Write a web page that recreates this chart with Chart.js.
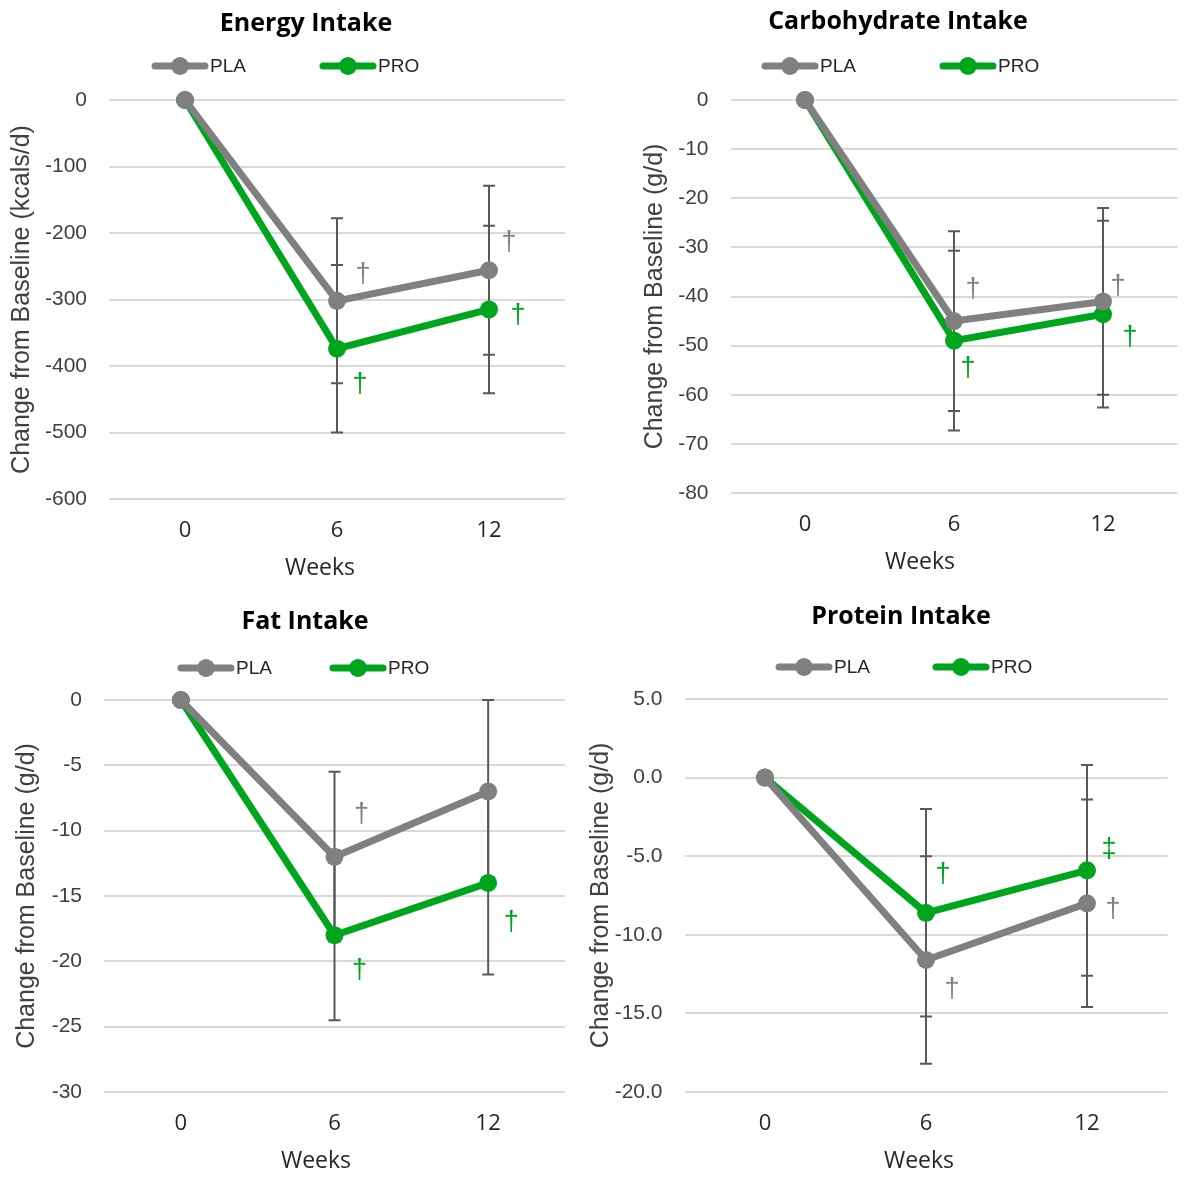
<!DOCTYPE html>
<html>
<head>
<meta charset="utf-8">
<script src="https://cdn.jsdelivr.net/npm/chart.js@4.4.1/dist/chart.umd.min.js"></script>
<style>
html, body { margin: 0; padding: 0; background: #fff; overflow: hidden; }
#wrap { position: relative; width: 1187px; height: 1181px; overflow: hidden; }
#wrap canvas { position: absolute; }
</style>
</head>
<body>
<div id="wrap"></div>
<script>
var weeks = ["0", "6", "12"];

// mean change from baseline and SD, per group
var energyPLA = [0, -302, -256];
var energyPRO = [0, -374, -315];
var energyPLAsd = [0, 124, 127];
var energyPROsd = [0, 126, 126];
var energyPLAsig = ["", "†", "†"];
var energyPROsig = ["", "†", "†"];

var carbPLA = [0, -45, -41];
var carbPRO = [0, -49, -43.6];
var carbPLAsd = [0, 18.3, 19];
var carbPROsd = [0, 18.3, 19];
var carbPLAsig = ["", "†", "†"];
var carbPROsig = ["", "†", "†"];

var fatPLA = [0, -12, -7];
var fatPRO = [0, -18, -14];
var fatPLAsd = [0, 6.5, 7];
var fatPROsd = [0, 6.5, 7];
var fatPLAsig = ["", "†", ""];
var fatPROsig = ["", "†", "†"];

var protPLA = [0, -11.6, -8];
var protPRO = [0, -8.6, -5.9];
var protPLAsd = [0, 6.6, 6.6];
var protPROsd = [0, 6.6, 6.7];
var protPLAsig = ["", "†", "†"];
var protPROsig = ["", "†", "‡"];

var GREY = '#808080';
var GREEN = '#00a51e';

// page layout of each panel: box [x,y,w,h], plot area [l,t,r,b]
var panels = [
  { title: 'Energy Intake', yTitle: 'Change from Baseline (kcals/d)',
    pla: energyPLA, pro: energyPRO, plaSd: energyPLAsd, proSd: energyPROsd, plaSig: energyPLAsig, proSig: energyPROsig,
    min: -600, max: 0, step: 100, dec: 0,
    box: [0, 0, 612, 595], plot: [109, 100, 565, 499], titleY: 24, yTitleX: 22, xTitleX: 320, legend: [66, 152, 320],
    plaSigAt: [null, [26, -258], [20, -210]], proSigAt: [null, [23, -424], [29, -320]] },
  { title: 'Carbohydrate Intake', yTitle: 'Change from Baseline (g/d)',
    pla: carbPLA, pro: carbPRO, plaSd: carbPLAsd, proSd: carbPROsd, plaSig: carbPLAsig, proSig: carbPROsig,
    min: -80, max: 0, step: 10, dec: 0,
    box: [609, 0, 578, 595], plot: [730.5, 100, 1177.5, 493], titleY: 22, yTitleX: 655, xTitleX: 920, legend: [66, 762, 940],
    plaSigAt: [null, [19, -38], [15, -37.3]], proSigAt: [null, [14, -54], [27, -47.8]] },
  { title: 'Fat Intake', yTitle: 'Change from Baseline (g/d)',
    pla: fatPLA, pro: fatPRO, plaSd: fatPLAsd, proSd: fatPROsd, plaSig: fatPLAsig, proSig: fatPROsig,
    min: -30, max: 0, step: 5, dec: 0,
    box: [0, 595, 610, 586], plot: [104, 700, 565, 1092], titleY: 622, yTitleX: 27, xTitleX: 316, legend: [668, 178, 330],
    plaSigAt: [null, [27, -8.55], null], proSigAt: [null, [25, -20.5], [23, -16.8]] },
  { title: 'Protein Intake', yTitle: 'Change from Baseline (g/d)',
    pla: protPLA, pro: protPRO, plaSd: protPLAsd, proSd: protPROsd, plaSig: protPLAsig, proSig: protPROsig,
    min: -20, max: 5, step: 5, dec: 1,
    box: [585, 595, 632, 586], plot: [684.5, 699, 1167.5, 1092], titleY: 617, yTitleX: 601, xTitleX: 919, legend: [667, 776, 933],
    plaSigAt: [null, [26, -13.26], [26, -8.2]], proSigAt: [null, [17, -6.0], [22, -4.4]] }
];

// error bars under the lines, legend, axis title and significance marks on top
var extras = {
  id: 'extras',
  afterLayout: function(chart) {
    // centre the title on the whole canvas, not the padded area
    chart.titleBlock.left = 0;
    chart.titleBlock.right = chart.width;
    chart.titleBlock.width = chart.width;
  },
  beforeDatasetsDraw: function(chart) {
    var ctx = chart.ctx, xs = chart.scales.x, ys = chart.scales.y;
    ctx.save();
    ctx.strokeStyle = '#595959';
    ctx.lineWidth = 2;
    chart.data.datasets.forEach(function(ds) {
      ds.sd.forEach(function(sd, i) {
        if (!sd) return;
        var px = xs.getPixelForValue(i);
        var top = ys.getPixelForValue(ds.data[i] + sd);
        var bot = ys.getPixelForValue(ds.data[i] - sd);
        ctx.beginPath();
        ctx.moveTo(px, top); ctx.lineTo(px, bot);
        ctx.moveTo(px - 6, top); ctx.lineTo(px + 6, top);
        ctx.moveTo(px - 6, bot); ctx.lineTo(px + 6, bot);
        ctx.stroke();
      });
    });
    ctx.restore();
  },
  afterDraw: function(chart) {
    var p = chart.options.plugins.extras.panel;
    var ctx = chart.ctx, xs = chart.scales.x, ys = chart.scales.y;
    var ox = p.box[0], oy = p.box[1];
    ctx.save();
    // x axis title
    ctx.fillStyle = '#262626';
    ctx.font = '23px "Open Sans", sans-serif';
    ctx.textAlign = 'center';
    ctx.textBaseline = 'middle';
    ctx.fillText('Weeks', p.xTitleX - ox, p.plot[3] + 69.5 - oy);
    // legend
    var ly = p.legend[0] - oy;
    chart.data.datasets.forEach(function(ds, k) {
      var lx = p.legend[k + 1] - ox;
      ctx.strokeStyle = ds.borderColor;
      ctx.lineWidth = 7;
      ctx.lineCap = 'round';
      ctx.beginPath(); ctx.moveTo(lx + 3, ly); ctx.lineTo(lx + 53, ly); ctx.stroke();
      ctx.fillStyle = ds.borderColor;
      ctx.beginPath(); ctx.arc(lx + 28, ly, 9, 0, Math.PI * 2); ctx.fill();
      ctx.fillStyle = '#262626';
      ctx.font = '19px "Liberation Sans", Arial, sans-serif';
      ctx.textAlign = 'left';
      ctx.textBaseline = 'middle';
      ctx.fillText(ds.label, lx + 58, ly + 1);
    });
    // daggers
    ctx.font = '27px "Liberation Sans", Arial, sans-serif';
    ctx.textAlign = 'center';
    ctx.textBaseline = 'middle';
    chart.data.datasets.forEach(function(ds) {
      ds.sig.forEach(function(s, i) {
        var at = ds.sigAt[i];
        if (!s || !at) return;
        ctx.fillStyle = ds.borderColor;
        ctx.fillText(s, xs.getPixelForValue(i) + at[0], ys.getPixelForValue(at[1]) + 3);
      });
    });
    ctx.restore();
  }
};

panels.forEach(function(p) {
  var cv = document.createElement('canvas');
  cv.width = p.box[2];
  cv.height = p.box[3];
  cv.style.left = p.box[0] + 'px';
  cv.style.top = p.box[1] + 'px';
  document.getElementById('wrap').appendChild(cv);

  var titleTop = p.titleY - p.box[1] - 15;
  var titleBottom = p.plot[1] - p.box[1] - titleTop - 30;
  var xBottom = p.box[1] + p.box[3];

  new Chart(cv, {
    type: 'line',
    data: {
      labels: weeks,
      datasets: [
        { label: 'PLA', data: p.pla, sd: p.plaSd, sig: p.plaSig, sigAt: p.plaSigAt,
          borderColor: GREY, backgroundColor: GREY, pointBackgroundColor: GREY },
        { label: 'PRO', data: p.pro, sd: p.proSd, sig: p.proSig, sigAt: p.proSigAt,
          borderColor: GREEN, backgroundColor: GREEN, pointBackgroundColor: GREEN }
      ]
    },
    options: {
      responsive: false,
      animation: false,
      events: [],
      layout: { padding: { left: 0, top: 0, bottom: 0, right: p.box[0] + p.box[2] - p.plot[2] } },
      elements: {
        line: { borderWidth: 7, tension: 0 },
        point: { radius: 9, borderWidth: 0 }
      },
      datasets: { line: { clip: false } },
      plugins: {
        legend: { display: false },
        tooltip: { enabled: false },
        title: {
          display: true, text: p.title, color: '#000',
          font: { family: '"Open Sans", sans-serif', size: 25, weight: 'bold', lineHeight: 1.2 },
          padding: { top: titleTop, bottom: titleBottom }
        },
        extras: { panel: p }
      },
      scales: {
        x: {
          offset: true,
          grid: { display: false, drawTicks: false },
          border: { display: false },
          ticks: { color: '#262626', padding: 31.5 - 13.2, font: { family: '"Open Sans", sans-serif', size: 22 } },
          afterFit: function(s) { s.height = xBottom - p.plot[3]; }
        },
        y: {
          min: p.min, max: p.max,
          grid: { color: '#d9d9d9', lineWidth: 2, drawTicks: false },
          border: { display: false },
          ticks: { stepSize: p.step, padding: 22, color: '#404040',
                   font: { family: '"Liberation Sans", Arial, sans-serif', size: 21 },
                   callback: function(v) { return v.toFixed(p.dec); } },
          title: { display: true, text: p.yTitle, color: '#404040',
                   font: { family: '"Liberation Sans", Arial, sans-serif', size: 25, lineHeight: 1.2 },
                   padding: { top: p.yTitleX - p.box[0] - 15, bottom: 0 } },
          afterFit: function(s) { s.width = p.plot[0] - p.box[0]; }
        }
      }
    },
    plugins: [extras]
  });
});
</script>
</body>
</html>
